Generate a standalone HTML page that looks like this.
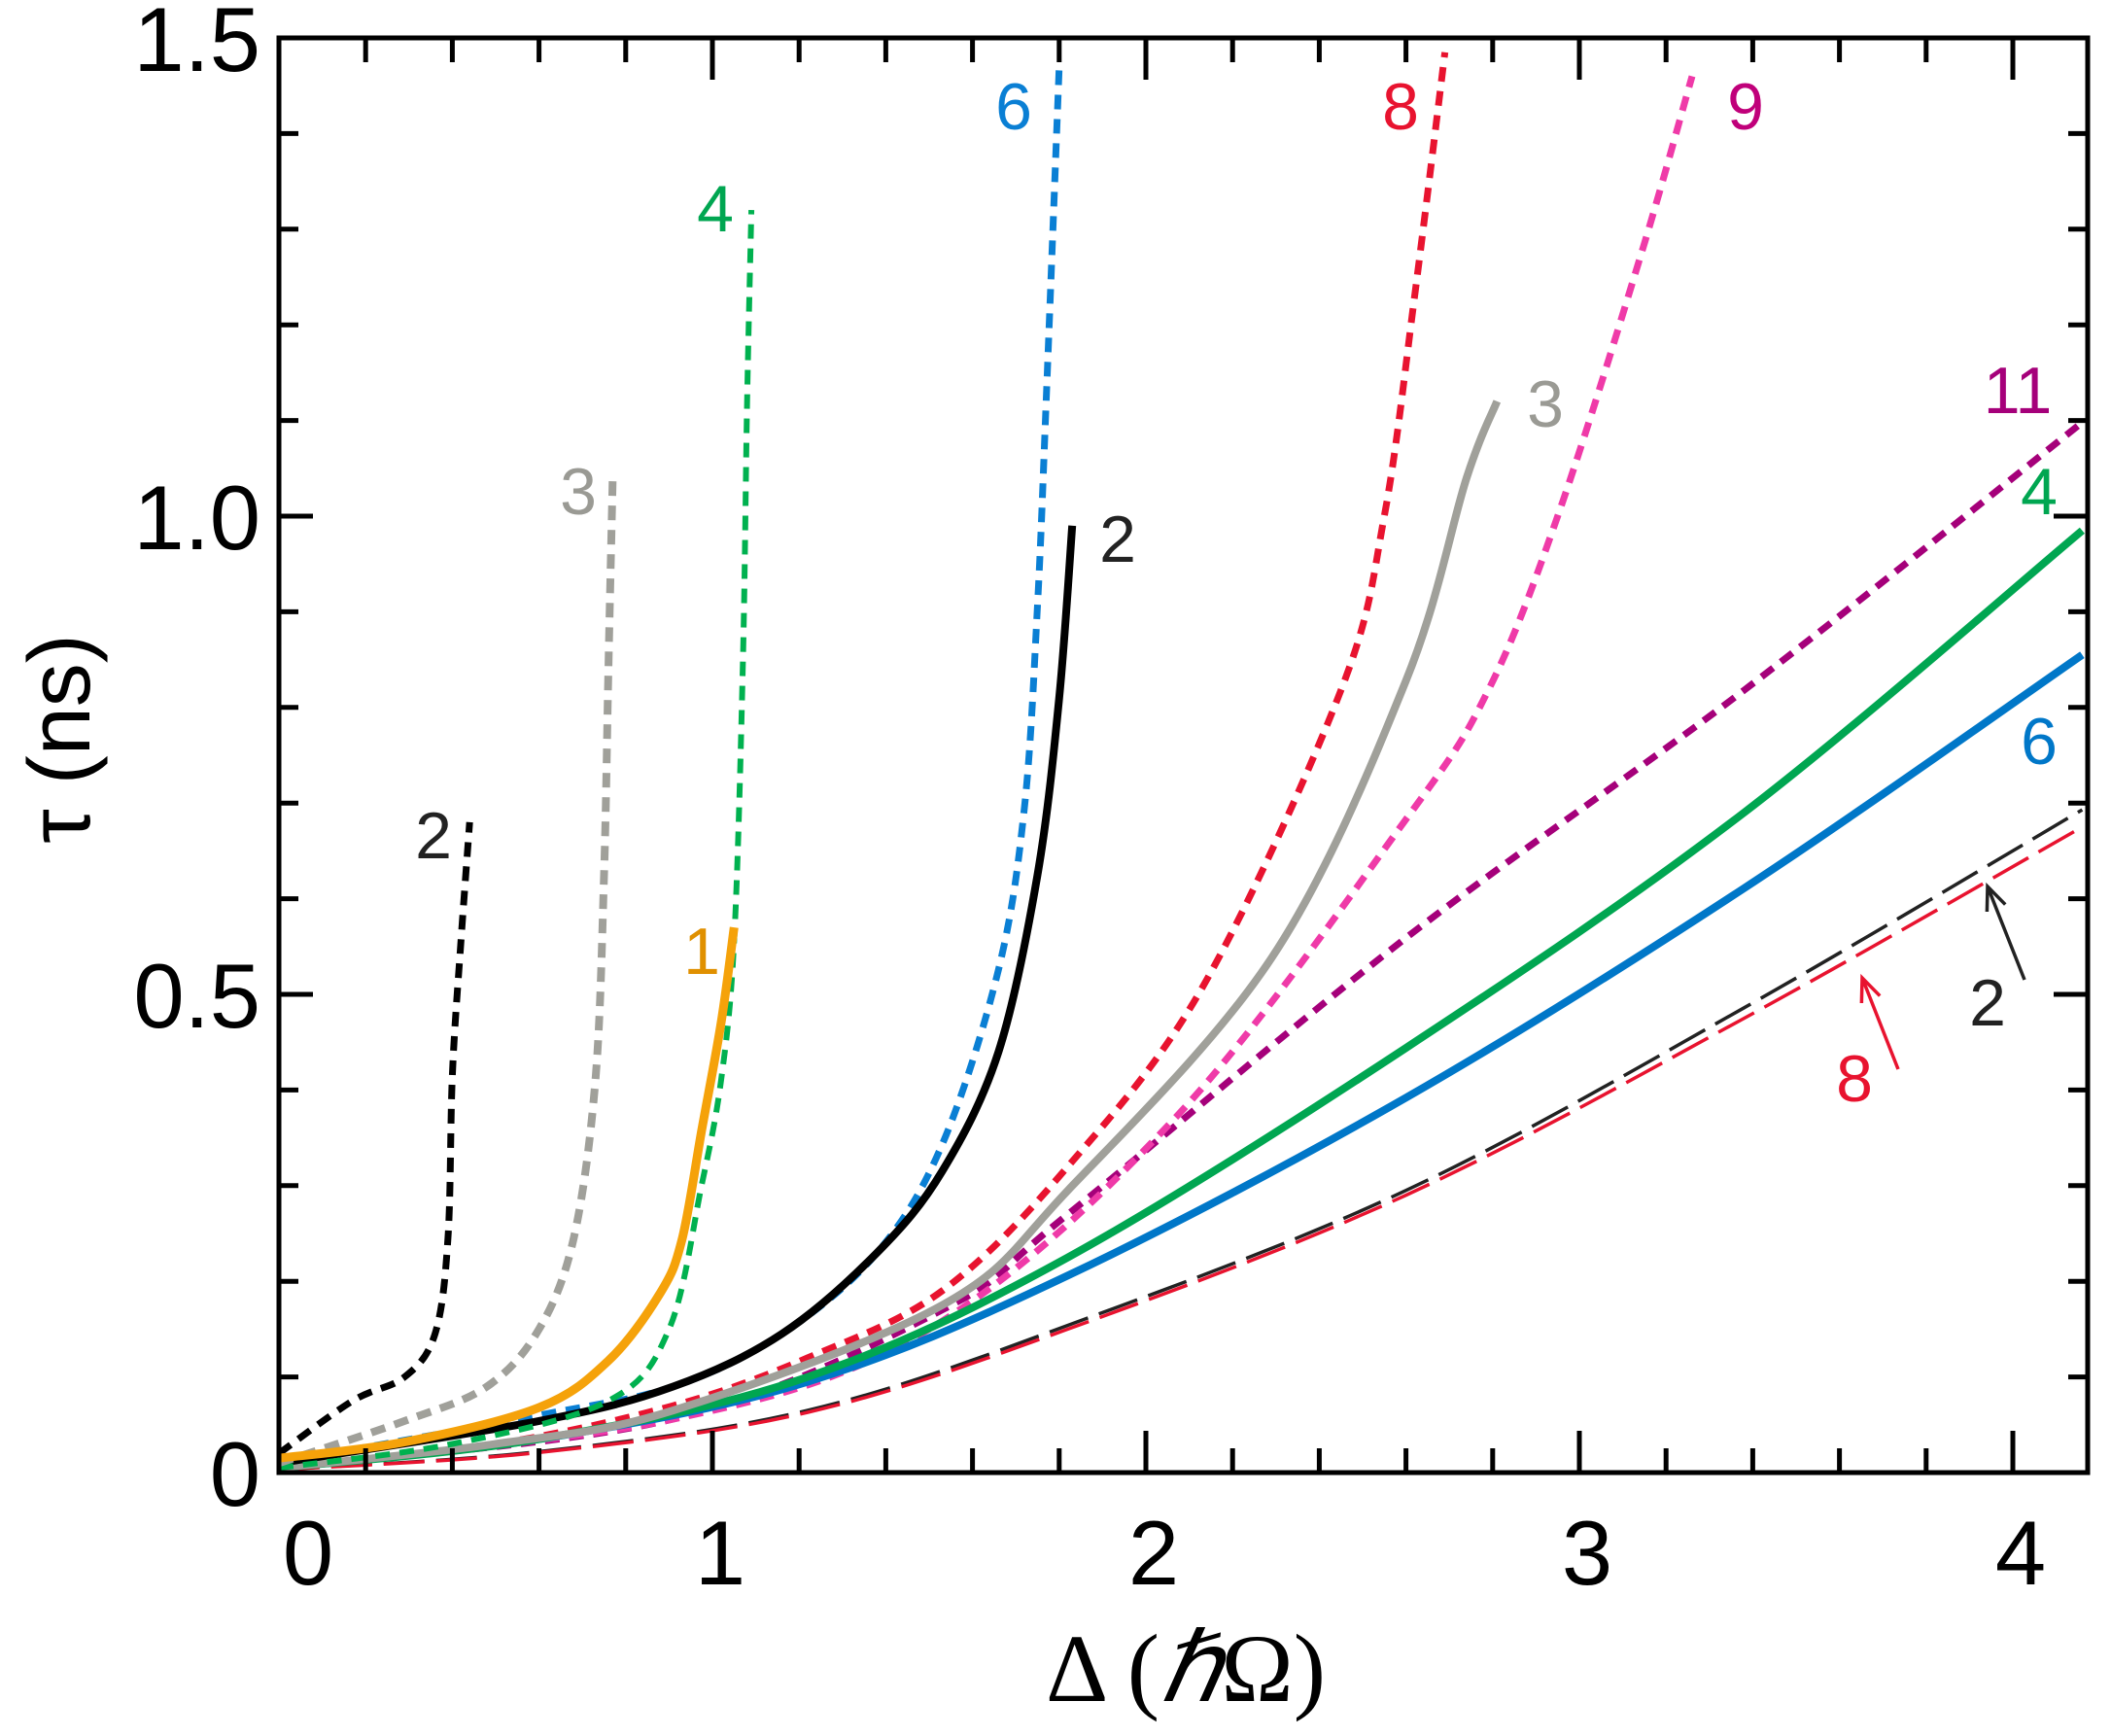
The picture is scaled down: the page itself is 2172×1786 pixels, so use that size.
<!DOCTYPE html>
<html><head><meta charset="utf-8"><style>
html,body{margin:0;padding:0;background:#fff;}
svg{display:block;}
text{font-family:"Liberation Sans",sans-serif;}
</style></head><body>
<svg id="chart" width="2172" height="1786" viewBox="0 0 2172 1786" xmlns="http://www.w3.org/2000/svg">
<g id="curves"></g>
<g id="axes"></g>
<g id="labels"></g>
</svg>
<script>
const xTicksMajor = [0, 1, 2, 3, 4];
const yTicksMajor = [0, 0.5, 1.0, 1.5];
const yTickLabels = ["0", "0.5", "1.0", "1.5"];
const xTickLabels = ["0", "1", "2", "3", "4"];

const c2dotX = [0, 0.17, 0.29, 0.36, 0.39, 0.40, 0.42, 0.44];
const c2dotY = [0.02, 0.075, 0.10, 0.145, 0.245, 0.415, 0.556, 0.68];
const c3dotX = [0, 0.29, 0.48, 0.60, 0.68, 0.73, 0.75, 0.76, 0.77];
const c3dotY = [0.01, 0.054, 0.09, 0.15, 0.245, 0.41, 0.625, 0.84, 1.04];
const c4dotX = [0, 0.4, 0.76, 0.9, 0.975, 1.02, 1.05, 1.07, 1.08, 1.09];
const c4dotY = [0.005, 0.03, 0.075, 0.15, 0.30, 0.41, 0.555, 0.84, 1.12, 1.32];
const c1X = [0, 0.29, 0.6, 0.76, 0.88, 0.93, 0.975, 1.02, 1.05];
const c1Y = [0.015, 0.032, 0.068, 0.117, 0.188, 0.244, 0.357, 0.47, 0.57];
const c6dotX = [0, 0.6, 0.91, 1.16, 1.38, 1.53, 1.66, 1.72, 1.75, 1.77, 1.80];
const c6dotY = [0.01, 0.06, 0.09, 0.145, 0.23, 0.343, 0.526, 0.696, 0.907, 1.12, 1.47];
const c2solX = [0, 0.6, 0.91, 1.16, 1.38, 1.53, 1.66, 1.75, 1.80, 1.83];
const c2solY = [0.01, 0.054, 0.09, 0.145, 0.23, 0.315, 0.44, 0.625, 0.81, 0.99];
const c8dotX = [0, 0.5, 0.91, 1.22, 1.53, 1.82, 2.13, 2.45, 2.55, 2.62, 2.69];
const c8dotY = [0.005, 0.03, 0.07, 0.12, 0.19, 0.32, 0.507, 0.818, 1.0, 1.23, 1.485];
const c3solX = [0, 0.5, 0.91, 1.53, 1.82, 2.29, 2.6, 2.74, 2.81];
const c3solY = [0.005, 0.03, 0.065, 0.175, 0.295, 0.538, 0.828, 1.04, 1.12];
const c9dotX = [0, 0.9, 1.5, 2.07, 2.6, 2.79, 2.95, 3.14, 3.26];
const c9dotY = [0.005, 0.055, 0.15, 0.372, 0.683, 0.818, 1.0, 1.27, 1.46];
const c11dotX = [0, 0.9, 1.53, 1.82, 2.6, 3.38, 4.16];
const c11dotY = [0.005, 0.055, 0.17, 0.27, 0.559, 0.818, 1.098];
const c4solX = [0, 0.6, 1.22, 1.82, 2.6, 3.38, 4.16];
const c4solY = [0.005, 0.035, 0.1, 0.225, 0.444, 0.69, 0.985];
const c6solX = [0, 0.6, 1.22, 1.82, 2.6, 3.38, 4.16];
const c6solY = [0.005, 0.035, 0.095, 0.206, 0.392, 0.611, 0.855];
const c2dashX = [0, 0.6, 1.22, 1.82, 2.6, 3.38, 4.16];
const c2dashY = [0.003, 0.022, 0.065, 0.154, 0.295, 0.486, 0.693];
const c8dashX = [0, 0.6, 1.22, 1.82, 2.6, 3.38, 4.16];
const c8dashY = [0.003, 0.021, 0.063, 0.15, 0.29, 0.475, 0.675];

const NS = "http://www.w3.org/2000/svg";
const X0 = 287, XU = 446, Y0 = 1515, YU = 984, XR = 2148, YT = 39;
function X(v){ return X0 + XU * v; }
function Y(v){ return Y0 - YU * v; }
function mk(tag, attrs, parent){ const e = document.createElementNS(NS, tag); for (const k in attrs) e.setAttribute(k, attrs[k]); parent.appendChild(e); return e; }
function pathD(xs, ys){
  const p = xs.map((x,i)=>[X(x), Y(ys[i])]);
  let d = "M" + p[0][0].toFixed(1) + "," + p[0][1].toFixed(1);
  for (let i = 0; i < p.length - 1; i++) {
    const p0 = p[i-1] || p[i], p1 = p[i], p2 = p[i+1], p3 = p[i+2] || p[i+1];
    const c1x = p1[0] + (p2[0]-p0[0])/6, c1y = p1[1] + (p2[1]-p0[1])/6;
    const c2x = p2[0] - (p3[0]-p1[0])/6, c2y = p2[1] - (p3[1]-p1[1])/6;
    d += " C" + c1x.toFixed(1) + "," + c1y.toFixed(1) + " " + c2x.toFixed(1) + "," + c2y.toFixed(1) + " " + p2[0].toFixed(1) + "," + p2[1].toFixed(1);
  }
  return d;
}
const curves = document.getElementById("curves");
const defs = mk("defs", {}, document.getElementById("chart"));
const cp = mk("clipPath", {id: "plotclip"}, defs);
mk("rect", {x: X0, y: YT, width: XR - X0, height: Y0 - YT}, cp);
curves.setAttribute("clip-path", "url(#plotclip)");

function draw(xs, ys, color, w, dash, name){
  const el = mk("path", {d: pathD(xs, ys), fill: "none", stroke: color, "stroke-width": w, "stroke-dasharray": dash || "none"}, curves);
  
  
}
draw(c2dashX, c2dashY, "#222", 3.5, "42 12", "curve-2-dashed");
draw(c8dashX, c8dashY, "#e8132f", 3.5, "42 12", "curve-8-dashed");
draw(c11dotX, c11dotY, "#a5007a", 7, "15 10", "curve-11-dotted");
draw(c9dotX, c9dotY, "#ef3aa8", 7, "15 10", "curve-9-dotted");
draw(c8dotX, c8dotY, "#e8132f", 7, "15 10", "curve-8-dotted");
draw(c6solX, c6solY, "#0077c8", 8, null, "curve-6-solid");
draw(c4solX, c4solY, "#00a651", 8, null, "curve-4-solid");
draw(c3solX, c3solY, "#a0a09a", 8, null, "curve-3-solid");
draw(c6dotX, c6dotY, "#0a7fd4", 7, "15 10", "curve-6-dotted");
draw(c2solX, c2solY, "#000", 8, null, "curve-2-solid");
draw(c4dotX, c4dotY, "#00b14f", 6, "15 10", "curve-4-dotted");
draw(c3dotX, c3dotY, "#a0a09a", 8, "15 10", "curve-3-dotted");
draw(c2dotX, c2dotY, "#000", 7, "15 10", "curve-2-dotted");
draw(c1X, c1Y, "#f5a20a", 9, null, "curve-1-solid");

const axes = document.getElementById("axes");
const frame = mk("rect", {x: X0, y: YT, width: XR - X0, height: Y0 - YT, fill: "none", stroke: "#000", "stroke-width": 5}, axes);


for (let i = 0; i <= 20; i++) {
  const v = i * 0.2; if (X(v) > XR - 2) break;
  const major = Math.abs(v - Math.round(v)) < 1e-6;
  const L = major ? 43 : 25;
  const t1 = mk("line", {x1: X(v), x2: X(v), y1: Y0, y2: Y0 - L, stroke: "#000", "stroke-width": 5}, axes);
  
  
  const t2 = mk("line", {x1: X(v), x2: X(v), y1: YT, y2: YT + L, stroke: "#000", "stroke-width": 5}, axes);
  
  
}
for (let i = 1; i < 15; i++) {
  const v = i * 0.1;
  const L = (i % 5 === 0) ? 35 : 20;
  const t1 = mk("line", {x1: X0, x2: X0 + L, y1: Y(v), y2: Y(v), stroke: "#000", "stroke-width": 5}, axes);
  
  
  const t2 = mk("line", {x1: XR, x2: XR - L, y1: Y(v), y2: Y(v), stroke: "#000", "stroke-width": 5}, axes);
  
  
}
xTicksMajor.forEach((v, i) => {
  const t = mk("text", {x: i === 0 ? X(v) + 30 : X(v) + 8, y: 1630, "font-size": 94, "text-anchor": "middle", fill: "#000"}, axes);
  t.textContent = xTickLabels[i];
  
  
});
yTicksMajor.forEach((v, i) => {
  const t = mk("text", {x: 268, y: Y(v) + 34, "font-size": 94, "text-anchor": "end", fill: "#000"}, axes);
  t.textContent = yTickLabels[i];
  
  
});
const xt = mk("text", {x: 1220, y: 1750, "font-size": 100, "text-anchor": "middle", fill: "#000", style: "font-family:'Liberation Serif',serif"}, axes);
xt.innerHTML = 'Δ (<tspan font-style="italic">ℏ</tspan>Ω)';


const yt = mk("text", {x: 0, y: 0, "font-size": 90, "text-anchor": "middle", fill: "#000", transform: "translate(92,760) rotate(-90)"}, axes);
yt.textContent = "τ (ns)";



const labels = document.getElementById("labels");
function lab(txt, x, y, color, name){
  const t = mk("text", {x: x, y: y + 25, "font-size": 68, "text-anchor": "middle", fill: color}, labels);
  t.textContent = txt;
  
  
}
lab("2", 446, 858, "#222", "label-2-dotted");
lab("3", 595, 504, "#9a9a94", "label-3-dotted");
lab("4", 736, 213, "#00a651", "label-4-dotted");
lab("1", 722, 977, "#e09000", "label-1-solid");
lab("6", 1043, 108, "#0a7fd4", "label-6-dotted");
lab("2", 1150, 553, "#222", "label-2-solid");
lab("8", 1441, 108, "#e8132f", "label-8-dotted");
lab("3", 1590, 414, "#9a9a94", "label-3-solid");
lab("9", 1796, 108, "#c0007a", "label-9-dotted");
lab("11", 2076, 400, "#a5007a", "label-11-dotted");
lab("4", 2098, 504, "#00a651", "label-4-solid");
lab("6", 2098, 761, "#0077c8", "label-6-solid");
lab("2", 2045, 1030, "#222", "label-2-dashed");
lab("8", 1908, 1108, "#e8132f", "label-8-dashed");
function arrow(x1, y1, x2, y2, color, name){
  const g = mk("g", {}, labels);
  
  
  mk("line", {x1: x1, y1: y1, x2: x2, y2: y2, stroke: color, "stroke-width": 3.5}, g);
  const a = Math.atan2(y2 - y1, x2 - x1), L = 26, s = 0.4;
  mk("polyline", {points: (x2 - L*Math.cos(a - s)) + "," + (y2 - L*Math.sin(a - s)) + " " + x2 + "," + y2 + " " + (x2 - L*Math.cos(a + s)) + "," + (y2 - L*Math.sin(a + s)), fill: "none", stroke: color, "stroke-width": 3.5}, g);
}
arrow(2083, 1008, 2045, 912, "#222", "arrow-2-dashed");
arrow(1953, 1100, 1916, 1006, "#e8132f", "arrow-8-dashed");
</script>
</body></html>
